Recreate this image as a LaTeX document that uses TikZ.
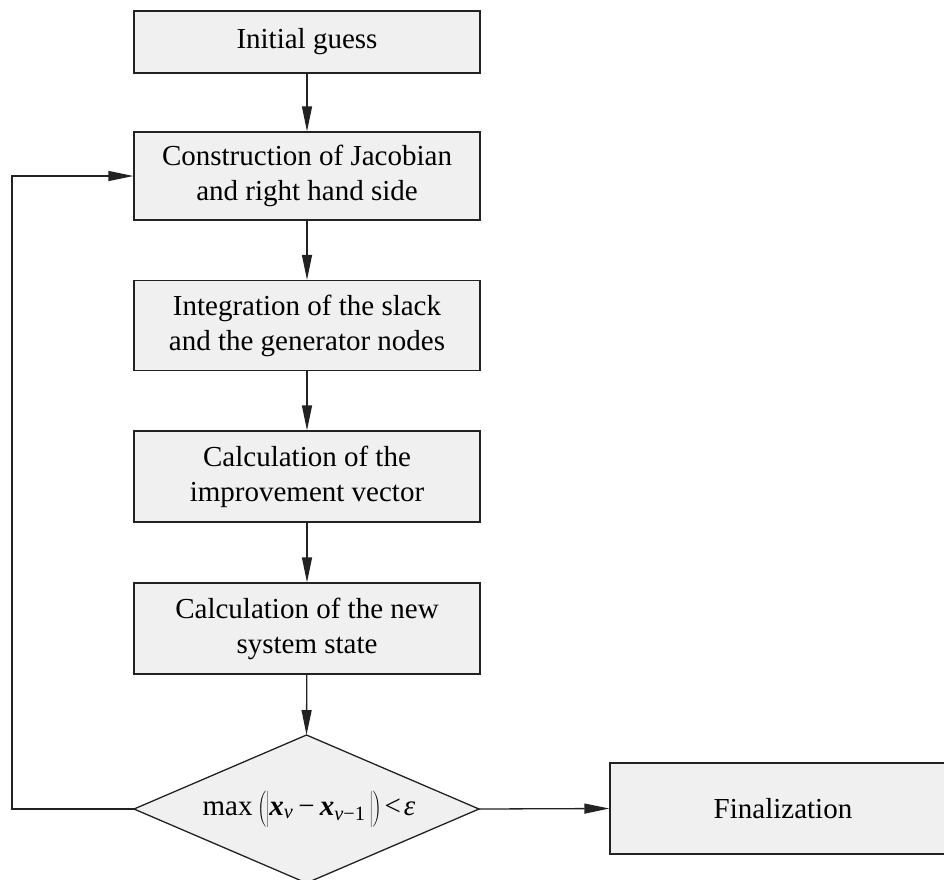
\documentclass[tikz,border=0pt]{standalone}
\usepackage{fontspec}
\setmainfont{Liberation Serif}
\usetikzlibrary{arrows.meta,positioning}
\definecolor{boxfill}{HTML}{F0F0F0}
\definecolor{edgecol}{HTML}{222222}
\newcommand{\bvec}{\textbf{\textit{x}}}
\newcommand{\tallstrut}{\vrule height 23pt depth 7pt width 0pt}
\tikzset{
  procbox/.style={draw=edgecol, line width=1.3pt, fill=boxfill, minimum width=346pt, align=center, inner sep=0pt, font=\fontsize{29}{35}\selectfont},
  arr/.style={draw=edgecol, line width=1.3pt, -{Triangle[length=25pt,width=10pt]}},
}
\begin{document}
\begin{tikzpicture}[x=1pt,y=-1pt]
\useasboundingbox (0,0) rectangle (944,879);
\node[procbox, minimum height=62pt] (b1) at (307,42) {Initial guess};
\node[procbox, minimum height=88pt] (b2) at (307,176) {Construction of Jacobian\\and right hand side};
\node[procbox, minimum height=90pt] (b3) at (307,325.5) {Integration of the slack\\and the generator nodes};
\node[procbox, minimum height=91pt] (b4) at (307,476.5) {Calculation of the\\improvement vector};
\node[procbox, minimum height=91pt] (b5) at (307,628.5) {Calculation of the new\\system state};
\node[procbox, minimum height=91pt] (fin) at (783,808.5) {Finalization};
% decision diamond
\coordinate (dt) at (306.5,735);
\coordinate (dr) at (479,809);
\coordinate (db) at (306.5,883);
\coordinate (dl) at (134,809);
\draw[draw=edgecol, line width=1.3pt, fill=boxfill] (dt) -- (dr) -- (db) -- (dl) -- cycle;
\node[inner sep=0pt, font=\fontsize{29}{35}\selectfont] (cond) at (309,809)
  {max\,$\left(\left|\tallstrut\mbox{\bvec\textsubscript{\textit{ν}}\hspace{5pt}−\hspace{5pt}\bvec\textsubscript{\textit{ν}−1}}\,\right|\right)$\hspace{3pt}<\hspace{3pt}\textit{ε}};
\coordinate (lp) at (12,809);
% connectors
\draw[arr] (b1) -- (b2);
\draw[arr] (b2) -- (b3);
\draw[arr] (b3) -- (b4);
\draw[arr] (b4) -- (b5);
\draw[arr] (b5) -- (dt);
\draw[arr] (dr) -- (fin.west);
\draw[arr] (dl) -- (lp) |- (b2.west);
\end{tikzpicture}
\end{document}
